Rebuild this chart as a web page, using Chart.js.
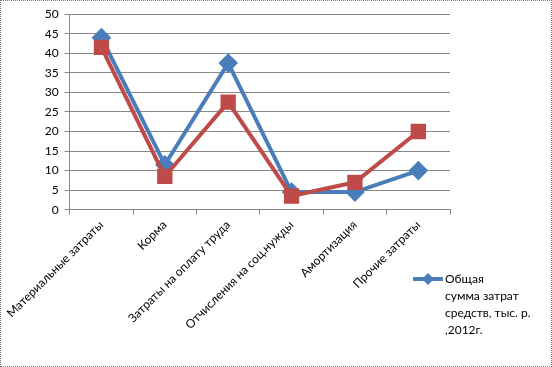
<!DOCTYPE html>
<html>
<head>
<meta charset="utf-8">
<script src="https://cdn.jsdelivr.net/npm/chart.js@4"></script>
<style>
  html, body { margin: 0; padding: 0; background: #fff; }
  #wrap { width: 550px; height: 365px; border: 1px dotted #777; position: relative; }
</style>
</head>
<body>
<div id="wrap"><canvas id="chart" width="550" height="365"></canvas></div>
<script>
const categories = ['Материальные затраты', 'Корма', 'Затраты на оплату труда', 'Отчисления на соц.нужды', 'Амортизация', 'Прочие затраты'];
const totalCosts = [44, 11.5, 37.5, 4.5, 4.5, 10];
const secondSeries = [41.5, 8.5, 27.5, 3.5, 7, 20];
const legendLines = ['Общая', 'сумма затрат', 'средств, тыс. р.', ',2012г.'];

const FONT = 'Lato, "Open Sans", sans-serif';

// legend drawn by hand, Chart.js can't wrap the label text
const wrappedLegend = {
    id: 'wrappedLegend',
    afterDraw(chart) {
        const ctx = chart.ctx;
        const ds = chart.data.datasets[0];
        const x = 412, y = 278;
        ctx.save();
        ctx.strokeStyle = ds.borderColor;
        ctx.lineWidth = 4;
        ctx.beginPath();
        ctx.moveTo(x, y);
        ctx.lineTo(x + 30, y);
        ctx.stroke();
        ctx.fillStyle = ds.backgroundColor;
        ctx.beginPath();
        ctx.moveTo(x + 15, y - 6);
        ctx.lineTo(x + 21, y);
        ctx.lineTo(x + 15, y + 6);
        ctx.lineTo(x + 9, y);
        ctx.closePath();
        ctx.fill();
        ctx.fillStyle = '#000';
        ctx.font = '12px ' + FONT;
        ctx.textBaseline = 'middle';
        legendLines.forEach((t, i) => ctx.fillText(t, x + 32, y + i * 17));
        ctx.restore();
    }
};

new Chart(document.getElementById('chart'), {
    type: 'line',
    data: {
        labels: categories,
        datasets: [{
            label: 'Общая сумма затрат средств, тыс. р. ,2012г.',
            data: totalCosts,
            borderColor: '#4A7EBB',
            backgroundColor: '#4A7EBB',
            borderWidth: 4,
            pointStyle: 'rectRot',
            pointRadius: 7,
            pointHoverRadius: 7,
            order: 1
        }, {
            label: '2013',
            data: secondSeries,
            borderColor: '#BE4B48',
            backgroundColor: '#BE4B48',
            borderWidth: 4,
            pointStyle: 'rect',
            pointRadius: 8,
            pointHoverRadius: 8,
            order: 0
        }]
    },
    options: {
        responsive: false,
        animation: false,
        layout: { padding: { top: 9, right: 101, bottom: 31, left: 30 } },
        plugins: {
            legend: { display: false },
            tooltip: { enabled: false }
        },
        scales: {
            x: {
                offset: true,
                grid: { display: true, offset: true, drawOnChartArea: false, tickLength: 5, color: '#888' },
                border: { color: '#888' },
                ticks: { minRotation: 45, maxRotation: 45, color: '#000', font: { family: FONT, size: 12 } }
            },
            y: {
                min: 0,
                max: 50,
                ticks: { stepSize: 5, color: '#000', padding: 6, font: { family: FONT, size: 12 } },
                grid: { color: '#888', tickLength: 5 },
                border: { color: '#888' }
            }
        }
    },
    plugins: [wrappedLegend]
});
</script>
</body>
</html>
